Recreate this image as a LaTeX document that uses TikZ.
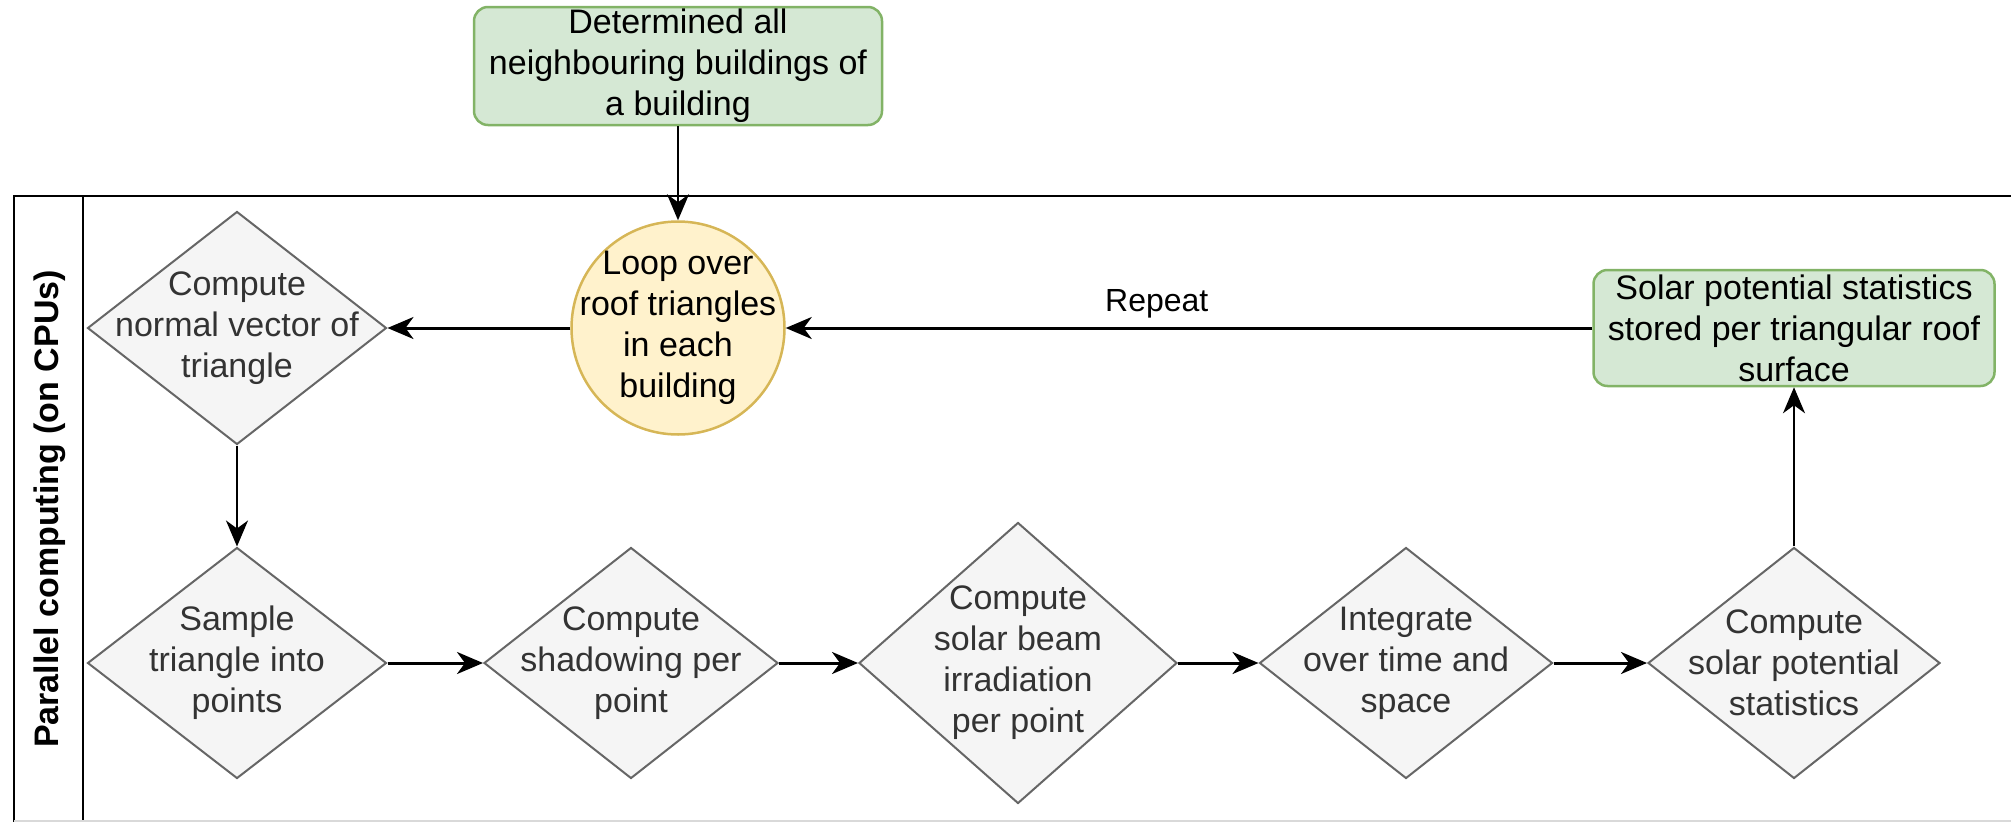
\documentclass[tikz,border=0pt]{standalone}
\usepackage{fontspec}
\setmainfont{Liberation Sans}
\usetikzlibrary{shapes.geometric,arrows.meta}
\definecolor{greenfill}{HTML}{D5E8D4}
\definecolor{greenline}{HTML}{82B366}
\definecolor{yellowfill}{HTML}{FFF2CC}
\definecolor{yellowline}{HTML}{D6B656}
\definecolor{greyfill}{HTML}{F5F5F5}
\definecolor{greyline}{HTML}{666666}
\definecolor{greytext}{HTML}{333333}
\tikzset{
    every node/.style={font=\fontsize{34}{41}\selectfont, align=center},
    result/.style={draw=greenline, fill=greenfill, line width=2.5pt, rounded corners=14pt,
        minimum width=406pt, minimum height=117pt, inner sep=0pt},
    loopnode/.style={circle, draw=yellowline, fill=yellowfill, line width=2.5pt,
        minimum size=213pt, inner sep=-30pt},
    decision/.style={diamond, draw=greyline, fill=greyfill, line width=2pt, inner sep=0pt,
        label={[text=greytext]center:#1}},
    flow/.style={-{Stealth[length=26pt,width=22pt,inset=8pt]}, line width=2pt},
    hflow/.style={flow, line width=3pt},
}
\begin{document}
\begin{tikzpicture}[x=1pt,y=-1pt]
        \useasboundingbox (0,0) rectangle (2011,822);
        %% Swimlane
        \draw[line width=2.5pt] (2040,196) -- (14,196) -- (14,830);
        \draw[line width=2.5pt] (83,196) -- (83,830);
        \draw[gray!30, line width=2pt] (14,821) -- (2040,821);
        \node[rotate=90, font=\bfseries\fontsize{34}{40}\selectfont] (lane) at (50,509) {Parallel computing (on CPUs)};
        %% Top row
        \node[result, minimum width=408pt, minimum height=118pt] (neigh) at (678,66) {Determined all\\neighbouring buildings of\\a building};
        \node[loopnode] (loop) at (678,328) {Loop over\\roof triangles\\in each\\building};
        \node[decision={Compute\\normal vector of\\triangle}, minimum width=299pt, minimum height=233pt] (normal) at (237,328) {};
        \node[result, minimum width=401pt, minimum height=116pt] (stats) at (1794,328) {Solar potential statistics\\stored per triangular roof\\surface};
        %% Bottom row
        \node[decision={Sample\\triangle into\\points}, minimum width=299pt, minimum height=231pt] (sample) at (237,663) {};
        \node[decision={Compute\\shadowing per\\point}, minimum width=294pt, minimum height=231pt] (shadow) at (631,663) {};
        \node[decision={Compute\\solar beam\\irradiation\\per point}, minimum width=318pt, minimum height=281pt] (beam) at (1018,663) {};
        \node[decision={Integrate\\over time and\\space}, minimum width=293pt, minimum height=231pt] (integrate) at (1406,663) {};
        \node[decision={Compute\\solar potential\\statistics}, minimum width=292pt, minimum height=231pt] (potential) at (1794,663) {};
        %% Arrows
        \draw[flow] (neigh) -- (loop);
        \draw[hflow] (loop) -- (normal);
        \draw[flow] (normal) -- (sample);
        \draw[hflow] (sample) -- (shadow);
        \draw[hflow] (shadow) -- (beam);
        \draw[hflow] (beam) -- (integrate);
        \draw[hflow] (integrate) -- (potential);
        \draw[flow] (potential) -- (stats);
        \draw[hflow] (stats) -- node[pos=0.54, yshift=24pt, font=\fontsize{32}{38}\selectfont] (repeat) {Repeat} (loop);
    \end{tikzpicture}
\end{document}
